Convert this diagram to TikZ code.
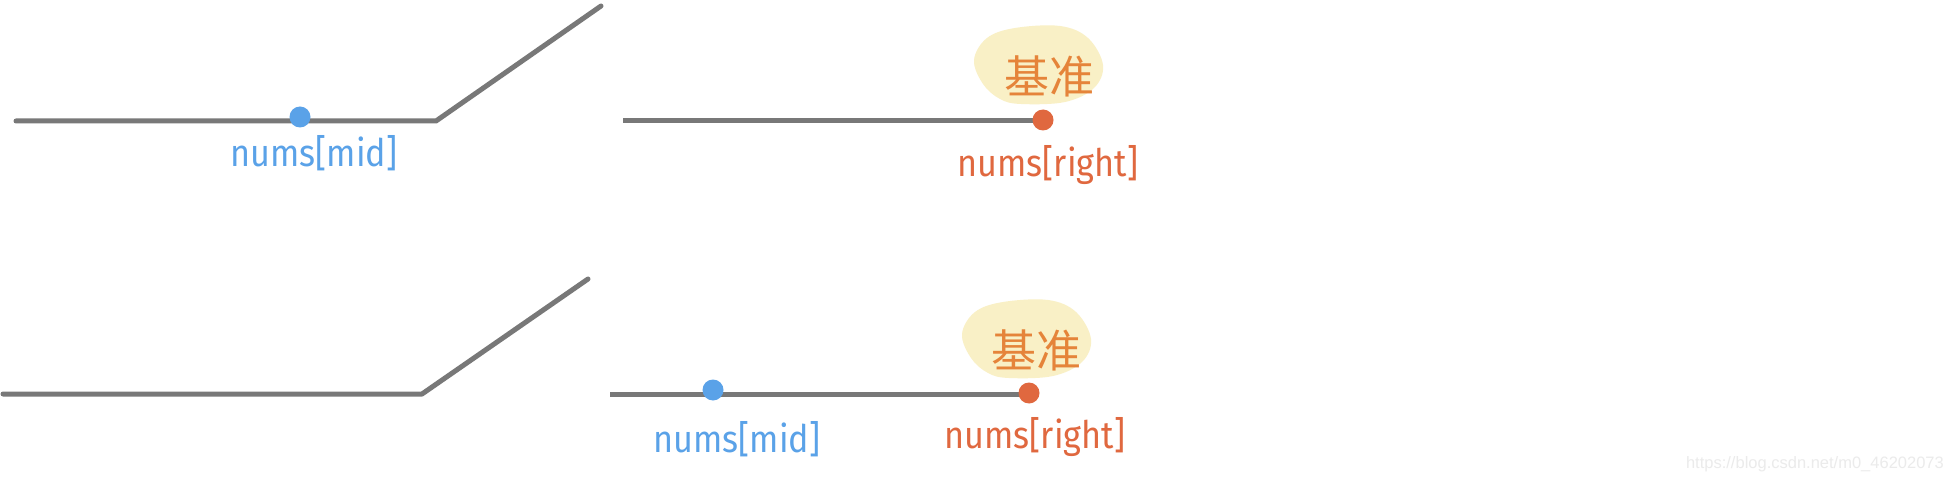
\documentclass[tikz,border=0pt]{standalone}
\usepackage{fontspec}
\setmainfont{Fira Sans}
\newfontfamily\cjk{Noto Sans CJK SC}
\newfontfamily\wmfont{Liberation Sans}
\definecolor{linegray}{HTML}{787878}
\definecolor{midblue}{HTML}{5AA2E8}
\definecolor{rightred}{HTML}{E0683F}
\definecolor{pivotorange}{HTML}{E5843A}
\definecolor{blobyellow}{HTML}{F9F0C6}
\definecolor{wmgray}{HTML}{EBEBEB}
\tikzset{
  bar/.style={line width=5pt, linegray, line cap=round, line join=round},
  flatbar/.style={line width=5pt, linegray, line cap=butt},
  dotnode/.style={circle, inner sep=0pt, minimum size=21pt},
  hand/.style={inner sep=0pt, anchor=base, font=\fontsize{38}{38}\selectfont},
  pivot/.style={inner sep=0pt, anchor=center, text=pivotorange, font=\cjk\fontsize{45}{45}\selectfont},
  blob/.style={fill=blobyellow, draw=none},
}
\newcommand{\handtext}[1]{\scalebox{0.9}[1]{#1}}
\newcommand{\blobpath}{plot[smooth cycle, tension=0.6] coordinates {(974,60) (987,38) (1015,28) (1060,26) (1088,38) (1103,65) (1094,88) (1065,102) (1021,104) (1000,99) (983,84)}}
\begin{document}
\begin{tikzpicture}[x=1pt,y=-1pt]
\useasboundingbox (0,0) rectangle (1954,481);
\fill[white] (0,0) rectangle (1954,481);
% ---------- top row ----------
\coordinate (t1) at (16,121);
\coordinate (t2) at (436,121);
\coordinate (t3) at (601,6);
\draw[bar] (t1) -- (t2) -- (t3);
\coordinate (tr1) at (623,121);
\coordinate (tr2) at (1043,121);
\draw[flatbar] (tr1) -- (tr2);
\fill[blob] \blobpath;
\node[pivot] (tpivot) at (1049,76) {基准};
\node[dotnode, fill=midblue] (tmid) at (300,117) {};
\node[dotnode, fill=rightred] (tright) at (1043,120) {};
\node[hand, text=midblue] (tmidlab) at (314,167) {\handtext{nums[mid]}};
\node[hand, text=rightred] (trightlab) at (1048,177) {\handtext{nums[right]}};
% ---------- bottom row ----------
\coordinate (b1) at (3,394);
\coordinate (b2) at (422,394);
\coordinate (b3) at (588,279);
\draw[bar] (b1) -- (b2) -- (b3);
\coordinate (br1) at (610,394);
\coordinate (br2) at (1030,394);
\draw[flatbar] (br1) -- (br2);
\begin{scope}[shift={(-12,274)}]
\fill[blob] \blobpath;
\end{scope}
\node[pivot] (bpivot) at (1036,350) {基准};
\node[dotnode, fill=midblue] (bmid) at (713,390) {};
\node[dotnode, fill=rightred] (bright) at (1029,393) {};
\node[hand, text=midblue] (bmidlab) at (737,452) {\handtext{nums[mid]}};
\node[hand, text=rightred] (brightlab) at (1035,448) {\handtext{nums[right]}};
% ---------- watermark ----------
\node[inner sep=0pt, anchor=base east, text=wmgray, font=\wmfont\fontsize{16.5}{16.5}\selectfont] (wm) at (1944,468) {https://blog.csdn.net/m0\_46202073};
\end{tikzpicture}
\end{document}
